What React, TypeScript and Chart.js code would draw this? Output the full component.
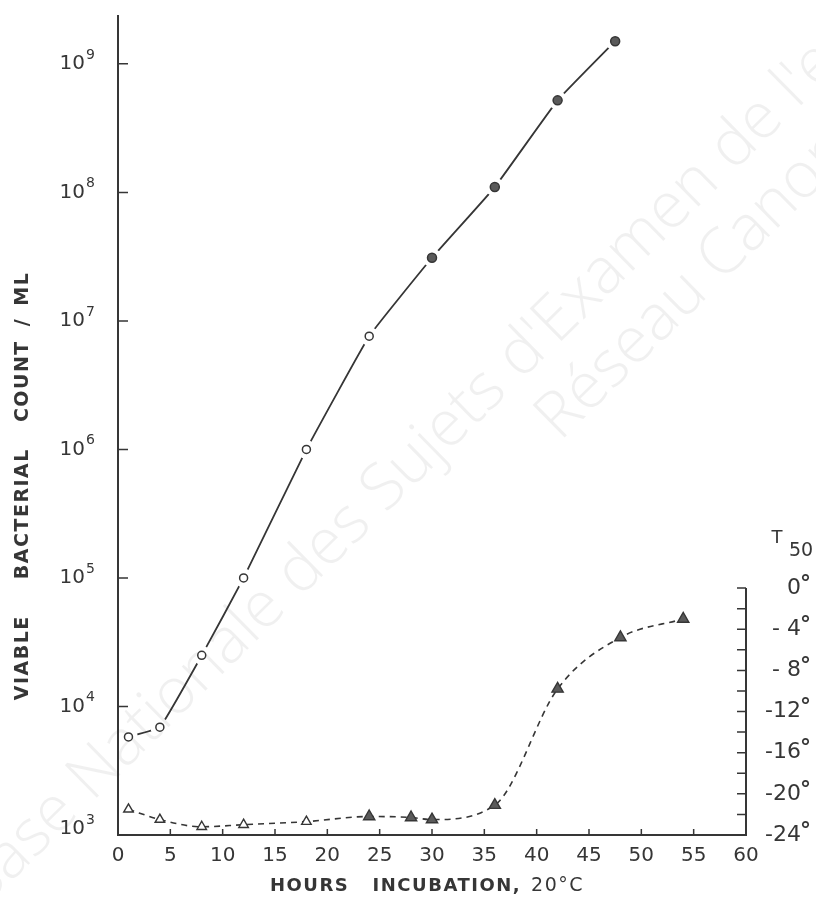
import React, { useEffect, useRef } from 'react';
import { Chart, registerables } from 'chart.js';

Chart.register(...registerables);

// ---- data ----
const countHours = [1, 4, 8, 12, 18, 24, 30, 36, 42, 47.5];
const viableCount = [5800, 6900, 25000, 100000, 1000000, 7600000, 31000000, 110000000, 520000000, 1500000000];
const countFilled = [false, false, false, false, false, false, true, true, true, true];

const t50Hours = [1, 4, 8, 12, 18, 24, 28, 30, 36, 42, 48, 54];
const t50Values = [-21.5, -22.5, -23.2, -23.0, -22.7, -22.2, -22.3, -22.5, -21.1, -9.8, -4.8, -3.0];
const t50Filled = [false, false, false, false, false, true, true, true, true, true, true, true];

const xTickValues = [0, 5, 10, 15, 20, 25, 30, 35, 40, 45, 50, 55, 60];
const countExponents = [3, 4, 5, 6, 7, 8, 9];
const t50TickValues = [0, -4, -8, -12, -16, -20, -24];
const t50TickLabels = ['0', '- 4', '- 8', '-12', '-16', '-20', '-24'];
const t50MinorStep = 2;

const yTitleWords = ['VIABLE', 'BACTERIAL', 'COUNT', '/', 'ML'];
const xTitleBold = 'HOURS   INCUBATION,';
const xTitleRest = '20°C';
const watermarkPrefix = 'Base Nationale ';
const watermark1 = "Base Nationale des Sujets d'Examen de l'enseignement professionnel";
const watermark2 = 'Réseau Canopé';

const INK = '#363636';
const FILL = '#5a5a5a';
const FONT = '"DejaVu Sans", sans-serif';
const LINE_LABEL = 'count line';
const GAP_RADIUS = 9.5;

const axesPlugin = {
  id: 'paperAxes',
  beforeDatasetsDraw(chart: any) {
    const ctx = chart.ctx as CanvasRenderingContext2D;
    const ang = (-44.5 * Math.PI) / 180;
    ctx.save();
    ctx.fillStyle = 'rgba(0,0,0,0.06)';
    ctx.font = `300 64px "Open Sans", sans-serif`;
    ctx.textBaseline = 'alphabetic';
    ctx.textAlign = 'left';
    const pre = ctx.measureText(watermarkPrefix).width;
    ctx.translate(300, 598);
    ctx.rotate(ang);
    ctx.fillText(watermark1, -pre, 0);
    ctx.restore();
    ctx.save();
    ctx.fillStyle = 'rgba(0,0,0,0.06)';
    ctx.font = `300 64px "Open Sans", sans-serif`;
    ctx.translate(560, 442);
    ctx.rotate(ang);
    ctx.fillText(watermark2, 0, 0);
    ctx.restore();
  },
  beforeDatasetDraw(chart: any, args: any) {
    const ds = chart.data.datasets[args.index];
    if (!ds || ds.label !== LINE_LABEL) return;
    const ctx = chart.ctx as CanvasRenderingContext2D;
    const meta = chart.getDatasetMeta(args.index);
    ctx.save();
    ctx.beginPath();
    ctx.rect(0, 0, chart.width, chart.height);
    for (const el of meta.data) {
      const p = el.getProps ? el.getProps(['x', 'y'], true) : el;
      ctx.moveTo(p.x + GAP_RADIUS, p.y);
      ctx.arc(p.x, p.y, GAP_RADIUS, 0, Math.PI * 2, true);
      ctx.closePath();
    }
    ctx.clip('evenodd');
  },
  afterDatasetDraw(chart: any, args: any) {
    const ds = chart.data.datasets[args.index];
    if (!ds || ds.label !== LINE_LABEL) return;
    chart.ctx.restore();
  },
  afterDraw(chart: any) {
    const ctx = chart.ctx as CanvasRenderingContext2D;
    const { left, right, top, bottom } = chart.chartArea;
    const xs = chart.scales.x;
    const ys = chart.scales.y;
    const y2 = chart.scales.y2;
    ctx.save();
    ctx.strokeStyle = INK;
    ctx.fillStyle = INK;
    ctx.lineWidth = 2;
    ctx.lineCap = 'butt';
    const r0 = y2.getPixelForValue(t50TickValues[0]);
    // axis lines
    ctx.beginPath();
    ctx.moveTo(left, top);
    ctx.lineTo(left, bottom);
    ctx.lineTo(right, bottom);
    ctx.lineTo(right, r0);
    ctx.stroke();
    // ticks
    ctx.lineWidth = 1.5;
    ctx.beginPath();
    for (const e of countExponents) {
      const py = ys.getPixelForValue(Math.pow(10, e));
      ctx.moveTo(left, py);
      ctx.lineTo(left + 10, py);
    }
    for (const v of xTickValues) {
      if (v === xTickValues[0] || v === xTickValues[xTickValues.length - 1]) continue;
      const px = xs.getPixelForValue(v);
      ctx.moveTo(px, bottom);
      ctx.lineTo(px, bottom - 6);
    }
    for (let v = t50TickValues[0]; v >= t50TickValues[t50TickValues.length - 1]; v -= t50MinorStep) {
      const py = y2.getPixelForValue(v);
      ctx.moveTo(right, py);
      ctx.lineTo(right - 9, py);
    }
    ctx.stroke();
    // left tick labels 10^n
    for (const e of countExponents) {
      const py = ys.getPixelForValue(Math.pow(10, e)) - (e === countExponents[0] ? 6 : 0);
      ctx.font = `20px ${FONT}`;
      ctx.textAlign = 'right';
      ctx.textBaseline = 'middle';
      ctx.fillText('10', 85, py);
      ctx.font = `14px ${FONT}`;
      ctx.textAlign = 'left';
      ctx.fillText(String(e), 86, py - 9);
    }
    // right tick labels
    t50TickValues.forEach((v, i) => {
      const py = y2.getPixelForValue(v);
      ctx.font = `22px ${FONT}`;
      ctx.textAlign = 'right';
      ctx.textBaseline = 'middle';
      ctx.fillText(t50TickLabels[i], 801, py);
      ctx.font = `bold 22px ${FONT}`;
      ctx.textAlign = 'left';
      ctx.fillText('°', 800, py - 4);
    });
    // T50 title
    ctx.font = `18px ${FONT}`;
    ctx.textAlign = 'center';
    ctx.textBaseline = 'middle';
    ctx.fillText('T', 777, r0 - 50);
    ctx.font = `19px ${FONT}`;
    ctx.fillText('50', 801, r0 - 37);
    // y title, word by word
    ctx.save();
    ctx.font = `bold 19px ${FONT}`;
    (ctx as any).letterSpacing = '1.5px';
    const gaps = [36, 26, 14, 12];
    const widths = yTitleWords.map((w) => ctx.measureText(w).width);
    const total = widths.reduce((a, b) => a + b, 0) + gaps.reduce((a, b) => a + b, 0);
    ctx.translate(23, 486);
    ctx.rotate(-Math.PI / 2);
    ctx.textAlign = 'left';
    ctx.textBaseline = 'middle';
    let cx = -total / 2;
    yTitleWords.forEach((w, i) => {
      ctx.fillText(w, cx, 0);
      cx += widths[i] + (gaps[i] || 0);
    });
    ctx.restore();
    // x title
    ctx.save();
    ctx.font = `bold 18px ${FONT}`;
    (ctx as any).letterSpacing = '1.5px';
    const wb = ctx.measureText(xTitleBold).width;
    ctx.font = `19px ${FONT}`;
    const wr = ctx.measureText(xTitleRest).width;
    const gap = 10;
    const startX = 427 - (wb + gap + wr) / 2;
    ctx.textAlign = 'left';
    ctx.textBaseline = 'middle';
    ctx.font = `bold 18px ${FONT}`;
    ctx.fillText(xTitleBold, startX, 886);
    ctx.font = `19px ${FONT}`;
    ctx.fillText(xTitleRest, startX + wb + gap, 886);
    ctx.restore();
    ctx.restore();
  },
};

export default function App() {
  const ref = useRef<HTMLCanvasElement>(null);
  useEffect(() => {
    if (!ref.current) return;
    const countPts = countHours.map((h, i) => ({ x: h, y: viableCount[i] }));
    const t50Pts = t50Hours.map((h, i) => ({ x: h, y: t50Values[i] }));
    const chart = new Chart(ref.current, {
      type: 'line',
      data: {
        datasets: [
          {
            label: 'count',
            data: countPts,
            yAxisID: 'y',
            showLine: false,
            borderColor: INK,
            pointStyle: 'circle',
            pointRadius: countFilled.map((f) => (f ? 4.5 : 4)),
            pointBackgroundColor: countFilled.map((f) => (f ? FILL : '#ffffff')),
            pointBorderColor: INK,
            pointBorderWidth: 1.5,
          },
          {
            label: LINE_LABEL,
            data: countPts,
            yAxisID: 'y',
            borderColor: INK,
            borderWidth: 1.8,
            tension: 0.1,
            pointRadius: 0,
          },
          {
            label: 'T50',
            data: t50Pts,
            yAxisID: 'y2',
            borderColor: INK,
            borderWidth: 1.6,
            borderDash: [6, 5],
            cubicInterpolationMode: 'monotone',
            pointStyle: 'triangle',
            pointRadius: t50Filled.map((f) => (f ? 6.5 : 5.5)),
            pointBackgroundColor: t50Filled.map((f) => (f ? FILL : '#ffffff')),
            pointBorderColor: INK,
            pointBorderWidth: 1.4,
          },
        ],
      },
      options: {
        animation: false,
        responsive: true,
        maintainAspectRatio: false,
        layout: { padding: { top: 15, left: 0, right: 0, bottom: 0 } },
        plugins: { legend: { display: false }, tooltip: { enabled: false } },
        scales: {
          x: {
            type: 'linear',
            min: 0,
            max: 60,
            grid: { display: false, drawTicks: false },
            border: { display: false },
            afterBuildTicks: (s: any) => {
              s.ticks = xTickValues.map((v) => ({ value: v }));
            },
            afterFit: (s: any) => {
              s.height = 83;
            },
            ticks: {
              font: { family: 'DejaVu Sans', size: 20 },
              color: INK,
              padding: 9,
              maxRotation: 0,
              autoSkip: false,
            },
          },
          y: {
            type: 'logarithmic',
            position: 'left',
            min: 1000,
            max: 2.4e9,
            grid: { display: false, drawTicks: false },
            border: { display: false },
            ticks: { display: false },
            afterFit: (s: any) => {
              s.width = 118;
            },
          },
          y2: {
            type: 'linear',
            position: 'right',
            min: -24,
            max: 55.7,
            grid: { display: false, drawTicks: false },
            border: { display: false },
            ticks: { display: false },
            afterFit: (s: any) => {
              s.width = 70;
            },
          },
        },
      },
      plugins: [axesPlugin],
    } as any);
    return () => chart.destroy();
  }, []);
  return (
    <div style={{ position: 'absolute', left: 0, top: 0, width: 816, height: 918, background: '#fff' }}>
      <canvas ref={ref} />
    </div>
  );
}
